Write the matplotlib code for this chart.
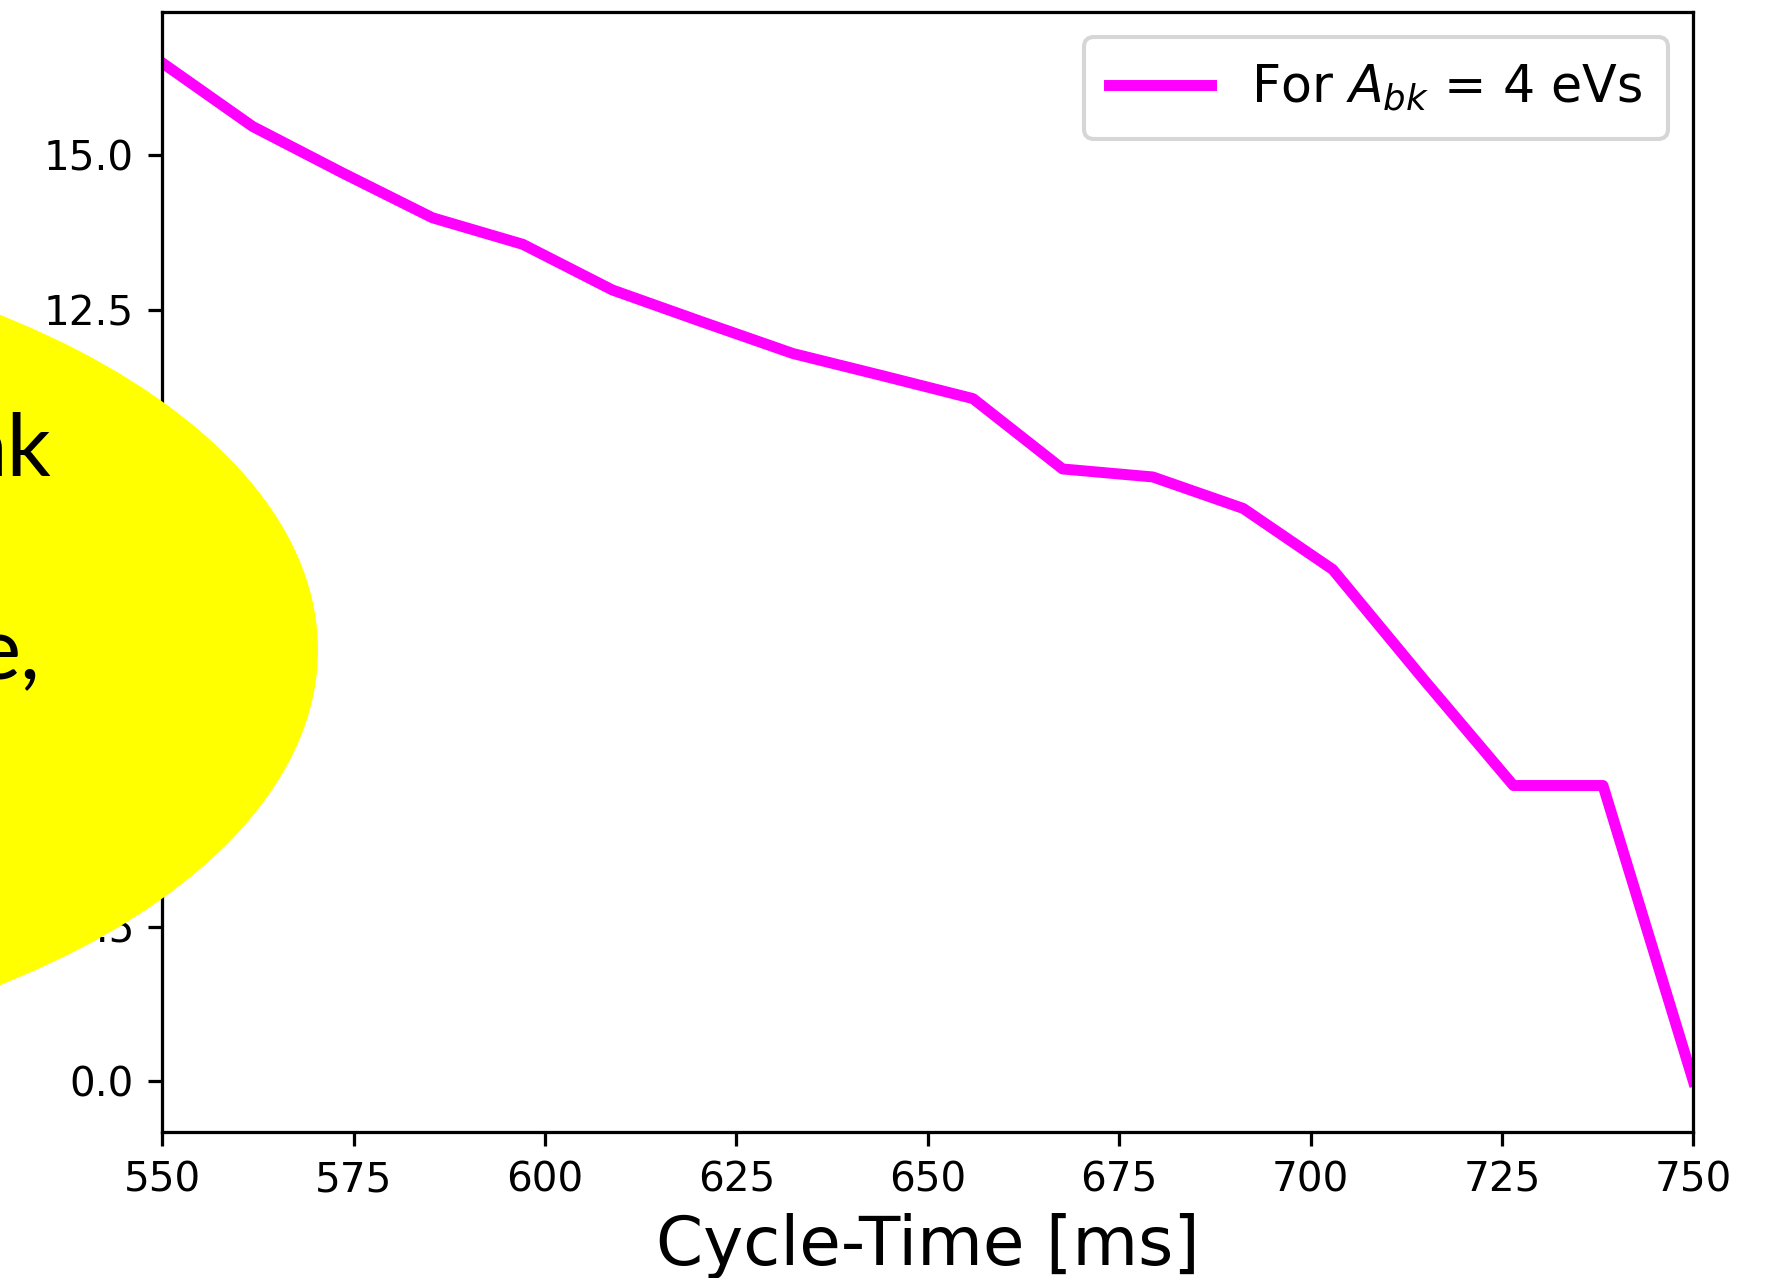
import matplotlib
matplotlib.use("Agg")
import matplotlib.pyplot as plt
from matplotlib.patches import Ellipse

# Decay curve of the blow-up time versus cycle time
cycle_time_ms = [550.0, 561.8, 573.5, 585.3, 597.1, 608.8, 620.6, 632.4, 644.1,
                 655.9, 667.6, 679.4, 691.2, 702.9, 714.7, 726.5, 738.2, 750.0]
values = [16.50, 15.47, 14.72, 13.99, 13.56, 12.82, 12.30, 11.79, 11.43,
          11.06, 9.92, 9.79, 9.28, 8.29, 6.52, 4.79, 4.79, 0.0]

x_ticks = [550, 575, 600, 625, 650, 675, 700, 725, 750]
y_ticks = [0.0, 2.5, 5.0, 7.5, 10.0, 12.5, 15.0]

series_label = r"For $A_{bk}$ = 4 eVs"
x_label = "Cycle-Time [ms]"
callout_lines = ["nk", "e,"]

W, H = 1779, 1278
DPI = 292
fig = plt.figure(figsize=(W / DPI, H / DPI), dpi=DPI)
fig.patch.set_facecolor("white")

ax = fig.add_axes([162.3 / W, 1 - 1132 / H, (1693.3 - 162.3) / W, (1132 - 12) / H])
ax.plot(cycle_time_ms, values, color="magenta", lw=2.7, label=series_label)
ax.set_xlim(550, 750)
ax.set_xticks(x_ticks)
ax.set_yticks(y_ticks)
ax.set_yticklabels([f"{v:.1f}" for v in y_ticks])
ax.tick_params(labelsize=10)
ax.set_xlabel(x_label, fontsize=16.7, labelpad=3)
ax.legend(loc="upper right", fontsize=12.5, borderpad=0.5)

# Yellow callout bubble overlapping the left edge of the chart
bubble = Ellipse((-500 / W, 1 - 650 / H), 1636 / W, 847 / H,
                 transform=fig.transFigure, facecolor="#FFFF00",
                 edgecolor="none", zorder=5)
fig.add_artist(bubble)
fig.text(52 / W, 1 - 476 / H, callout_lines[0], ha="right", va="baseline",
         fontsize=21.5, family="Lato", color="black", zorder=6)
fig.text(40 / W, 1 - 679 / H, callout_lines[1], ha="right", va="baseline",
         fontsize=21.5, family="Lato", color="black", zorder=6)

fig.savefig("out.png", dpi=DPI, facecolor="white")
